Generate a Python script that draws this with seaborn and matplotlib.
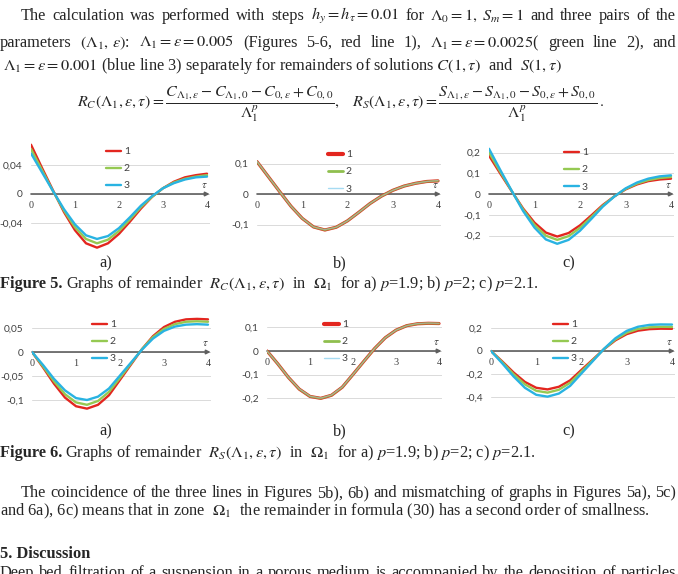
import matplotlib
matplotlib.use("Agg")
import matplotlib.pyplot as plt
import seaborn as sns
import pandas as pd

sns.set_style("white")
plt.rcParams.update({
    'font.family': ['Liberation Serif', 'DejaVu Serif'],
    'mathtext.fontset': 'stix',
    'axes.unicode_minus': False,
})

# ---------------- data ----------------
tau = [0, 0.25, 0.5, 0.75, 1, 1.25, 1.5, 1.75, 2, 2.25, 2.5, 2.75, 3, 3.25, 3.5, 3.75, 4]
tau_ticks = [0, 1, 2, 3, 4]
tau_labels = ["0", "1", "2", "3", "4"]
line_names = ["1", "2", "3"]

# Figure 5: R_C
fig5a_red = [0.068, 0.036, 0.005, -0.025, -0.050, -0.068, -0.074, -0.068, -0.055, -0.038, -0.020, -0.004, 0.008, 0.017, 0.023, 0.026, 0.028]
fig5a_green = [0.062, 0.033, 0.004, -0.023, -0.046, -0.062, -0.068, -0.063, -0.051, -0.035, -0.018, -0.004, 0.008, 0.016, 0.021, 0.024, 0.026]
fig5a_blue = [0.056, 0.030, 0.004, -0.021, -0.042, -0.057, -0.062, -0.058, -0.047, -0.032, -0.016, -0.003, 0.008, 0.015, 0.020, 0.023, 0.024]
fig5a_ticks = [0.04, 0, -0.04]
fig5a_labels = ["0,04", "0", "-0,04"]

fig5b_red = [0.106, 0.057, 0.008, -0.040, -0.080, -0.108, -0.118, -0.109, -0.088, -0.060, -0.031, -0.007, 0.012, 0.026, 0.035, 0.041, 0.043]
fig5b_green = [0.106, 0.057, 0.008, -0.040, -0.080, -0.108, -0.118, -0.109, -0.088, -0.060, -0.031, -0.007, 0.012, 0.026, 0.035, 0.041, 0.043]
fig5b_blue = [0.107, 0.057, 0.008, -0.040, -0.080, -0.108, -0.117, -0.109, -0.088, -0.060, -0.031, -0.007, 0.012, 0.026, 0.035, 0.041, 0.044]
fig5b_ticks = [0.1, 0, -0.1]
fig5b_labels = ["0,1", "0", "-0,1"]

fig5c_red = [0.185, 0.098, 0.013, -0.070, -0.138, -0.186, -0.205, -0.188, -0.151, -0.103, -0.053, -0.012, 0.022, 0.046, 0.062, 0.070, 0.074]
fig5c_green = [0.200, 0.106, 0.014, -0.075, -0.149, -0.201, -0.221, -0.203, -0.163, -0.111, -0.057, -0.012, 0.024, 0.050, 0.067, 0.077, 0.082]
fig5c_blue = [0.218, 0.115, 0.015, -0.082, -0.162, -0.219, -0.240, -0.221, -0.177, -0.120, -0.061, -0.013, 0.027, 0.055, 0.074, 0.085, 0.090]
fig5c_ticks = [0.2, 0.1, 0, -0.1, -0.2]
fig5c_labels = ["0,2", "0,1", "0", "-0,1", "-0,2"]

# Figure 6: R_S
fig6a_red = [0, -0.032, -0.066, -0.095, -0.113, -0.118, -0.110, -0.090, -0.058, -0.026, 0.006, 0.033, 0.052, 0.063, 0.068, 0.069, 0.068]
fig6a_green = [0, -0.030, -0.061, -0.088, -0.105, -0.110, -0.102, -0.083, -0.054, -0.024, 0.006, 0.031, 0.048, 0.058, 0.063, 0.064, 0.063]
fig6a_blue = [0, -0.027, -0.056, -0.080, -0.096, -0.100, -0.093, -0.076, -0.049, -0.022, 0.005, 0.028, 0.044, 0.053, 0.057, 0.058, 0.057]
fig6a_ticks = [0.05, 0, -0.05, -0.1]
fig6a_labels = ["0,05", "0", "-0,05", "-0,1"]

fig6b_red = [0, -0.054, -0.112, -0.161, -0.192, -0.200, -0.187, -0.153, -0.099, -0.044, 0.010, 0.056, 0.088, 0.107, 0.115, 0.117, 0.116]
fig6b_green = [0, -0.054, -0.112, -0.161, -0.192, -0.200, -0.187, -0.153, -0.099, -0.044, 0.010, 0.056, 0.088, 0.107, 0.115, 0.117, 0.116]
fig6b_blue = [0, -0.054, -0.112, -0.160, -0.191, -0.199, -0.186, -0.152, -0.099, -0.044, 0.010, 0.056, 0.088, 0.107, 0.116, 0.118, 0.117]
fig6b_ticks = [0.1, 0, -0.1, -0.2]
fig6b_labels = ["0,1", "0", "-0,1", "-0,2"]

fig6c_red = [0, -0.091, -0.187, -0.269, -0.320, -0.334, -0.311, -0.255, -0.164, -0.074, 0.017, 0.093, 0.147, 0.177, 0.190, 0.194, 0.193]
fig6c_green = [0, -0.098, -0.202, -0.290, -0.346, -0.362, -0.337, -0.276, -0.178, -0.080, 0.018, 0.101, 0.159, 0.192, 0.206, 0.210, 0.209]
fig6c_blue = [0, -0.108, -0.222, -0.320, -0.381, -0.397, -0.370, -0.303, -0.195, -0.088, 0.020, 0.111, 0.175, 0.211, 0.227, 0.231, 0.230]
fig6c_ticks = [0.2, 0, -0.2, -0.4]
fig6c_labels = ["0,2", "0", "-0,2", "-0,4"]

# ---------------- page layout ----------------
W, H = 678, 574
fig = plt.figure(figsize=(W / 100, H / 100), dpi=100)
renderer = fig.canvas.get_renderer()
TXT = 11.8
XMAX = 4.06
AXIS_COL = '#5f5f5f'
TICK_COL = '#404040'
COLORS = ['#e3261f', '#95c952', '#29b3e2']


def fx(px):
    return px / W


def fy(py):
    return 1 - py / H


def justify(tokens, y, x0, x1, **kw):
    # spread words across x0..x1 like a justified paragraph line
    texts = [fig.text(0, fy(y), t, va='baseline', fontsize=TXT, **kw) for t in tokens]
    widths = [t.get_window_extent(renderer).width for t in texts]
    gap = (x1 - x0 - sum(widths)) / (len(texts) - 1)
    x = x0
    for t, w in zip(texts, widths):
        t.set_x(fx(x))
        x += w + gap


def text_at(x, y, s, **kw):
    kw.setdefault('fontsize', TXT)
    return fig.text(fx(x), fy(y), s, va='baseline', **kw)


def caption(y, num, rest):
    t = text_at(0, y, f"Figure {num}.", fontweight='bold')
    w = t.get_window_extent(renderer).width
    text_at(w + 3, y, rest)


def draw_panel(x0, x4, yzero, ppu, ylim, ticks, labels, series, legend_xy, merged=False):
    top = yzero - ylim[1] * ppu
    bottom = yzero - ylim[0] * ppu
    right = x0 + (x4 - x0) * XMAX / 4
    ax = fig.add_axes([fx(x0), fy(bottom), fx(right) - fx(x0), (bottom - top) / H])

    df = pd.DataFrame({
        'tau': tau * 3,
        'R': series[0] + series[1] + series[2],
        'line': [n for n in line_names for _ in tau],
    })
    if merged:
        styles = [(COLORS[0], 2.3, 1.0), ('#8fbf4e', 1.7, 0.7), ('#a6dbf2', 0.8, 0.5)]
    else:
        styles = [(c, 1.7, 1.0) for c in COLORS]
    for name, (c, lw, a) in zip(line_names, styles):
        sns.lineplot(data=df[df['line'] == name], x='tau', y='R', color=c, linewidth=lw,
                     alpha=a, label=name, ax=ax, zorder=3)

    ax.set_xlim(0, XMAX)
    ax.set_ylim(ylim)
    ax.set_yticks(ticks, labels=labels, fontfamily='Lato')
    ax.set_xticks(tau_ticks, labels=tau_labels, fontfamily='Lato')
    ax.set_xlabel('')
    ax.set_ylabel('')
    for s in ax.spines.values():
        s.set_visible(False)
    ax.spines['bottom'].set_position(('data', 0))
    ax.tick_params(length=0, labelsize=7.3, labelcolor=TICK_COL)
    ax.tick_params(axis='y', pad=6)
    ax.tick_params(axis='x', pad=5)
    ax.grid(axis='y', color='#dadada', linewidth=0.7)
    ax.grid(axis='x', visible=False)
    ax.set_axisbelow(True)
    ax.annotate('', xy=(XMAX, 0), xytext=(0, 0),
                arrowprops=dict(arrowstyle='-|>', color=AXIS_COL, lw=1.2,
                                mutation_scale=6, shrinkA=0, shrinkB=0),
                annotation_clip=False, zorder=2)
    ax.annotate(r'$\tau$', xy=(3.95, 0), xytext=(0, 3), textcoords='offset points',
                ha='center', va='bottom', fontsize=8, color=TICK_COL)
    leg = ax.legend(loc='upper left', bbox_to_anchor=(fx(legend_xy[0]), fy(legend_xy[1])),
                    bbox_transform=fig.transFigure, frameon=False, handlelength=1.4,
                    handletextpad=0.3, labelspacing=0.75, borderaxespad=0, borderpad=0,
                    prop={'family': 'Lato', 'size': 7.5}, labelcolor=TICK_COL)
    if merged:
        for h, lw in zip(leg.get_lines(), [3, 2, 1]):
            h.set_linewidth(lw)
            h.set_alpha(1)
    return ax


# ---------------- top paragraph ----------------
justify(["The", "calculation", "was", "performed", "with", "steps", r"$h_y=h_\tau=0.01$", "for",
         r"$\Lambda_0=1,\;S_m=1$", "and", "three", "pairs", "of", "the"], 20, 21, 676)
justify(["parameters", r"$(\Lambda_1,\,\varepsilon)$:", r"$\Lambda_1=\varepsilon=0.005$", "(Figures",
         "5-6,", "red", "line", "1),", r"$\Lambda_1=\varepsilon=0.0025$(", "green", "line", "2),",
         "and"], 47, 0, 676)
text_at(3, 70, r"$\Lambda_1=\varepsilon=0.001$ (blue line 3) separately for remainders of solutions "
               r"$C(1,\tau)$  and  $S(1,\tau)$")
fig.text(fx(77), fy(104),
         r"$R_C(\Lambda_1,\varepsilon,\tau)=\dfrac{C_{\Lambda_1,\varepsilon}-C_{\Lambda_1,0}-C_{0,\varepsilon}+C_{0,0}}"
         r"{\Lambda_1^p},\quad R_S(\Lambda_1,\varepsilon,\tau)=\dfrac{S_{\Lambda_1,\varepsilon}-S_{\Lambda_1,0}"
         r"-S_{0,\varepsilon}+S_{0,0}}{\Lambda_1^p}\,.$",
         va='center', fontsize=TXT - 0.3)

# ---------------- Figure 5 ----------------
draw_panel(31, 207, 194, 725, (-0.08, 0.075), fig5a_ticks, fig5a_labels,
           [fig5a_red, fig5a_green, fig5a_blue], (106, 147))
draw_panel(257, 438, 194, 305, (-0.16, 0.16), fig5b_ticks, fig5b_labels,
           [fig5b_red, fig5b_green, fig5b_blue], (328, 150), merged=True)
draw_panel(489, 671, 194, 207.5, (-0.26, 0.26), fig5c_ticks, fig5c_labels,
           [fig5c_red, fig5c_green, fig5c_blue], (564, 148))
for x, s in zip([106, 340, 569], ["a)", "b)", "c)"]):
    text_at(x, 267, s, ha='center')
caption(288, 5, r"Graphs of remainder  $R_C(\Lambda_1,\varepsilon,\tau)$  in  $\Omega_1$  for a) $p$=1.9; "
                r"b) $p$=2; c) $p$=2.1.")

# ---------------- Figure 6 ----------------
draw_panel(32, 208, 352, 480, (-0.13, 0.09), fig6a_ticks, fig6a_labels,
           [fig6a_red, fig6a_green, fig6a_blue], (92, 320))
draw_panel(267, 439, 351, 236.7, (-0.25, 0.18), fig6b_ticks, fig6b_labels,
           [fig6b_red, fig6b_green, fig6b_blue], (324, 320), merged=True)
draw_panel(491, 672, 351, 115, (-0.5, 0.35), fig6c_ticks, fig6c_labels,
           [fig6c_red, fig6c_green, fig6c_blue], (553, 320))
for x, s in zip([106, 340, 569], ["a)", "b)", "c)"]):
    text_at(x, 435, s, ha='center')
caption(457, 6, r"Graphs of remainder  $R_S(\Lambda_1,\varepsilon,\tau)$  in  $\Omega_1$  for a) $p$=1.9; "
                r"b) $p$=2; c) $p$=2.1.")

# ---------------- bottom text ----------------
justify("The coincidence of the three lines in Figures 5b), 6b) and mismatching of graphs in Figures 5a), 5c)".split(),
        497, 21, 676)
text_at(0, 515, r"and 6a), 6c) means that in zone  $\Omega_1$  the remainder in formula (30) has a second order of smallness.")
text_at(0, 558, "5. Discussion", fontweight='bold')
justify("Deep bed filtration of a suspension in a porous medium is accompanied by the deposition of particles".split(),
        577, 0, 676)

fig.savefig("out.png", dpi=100)
